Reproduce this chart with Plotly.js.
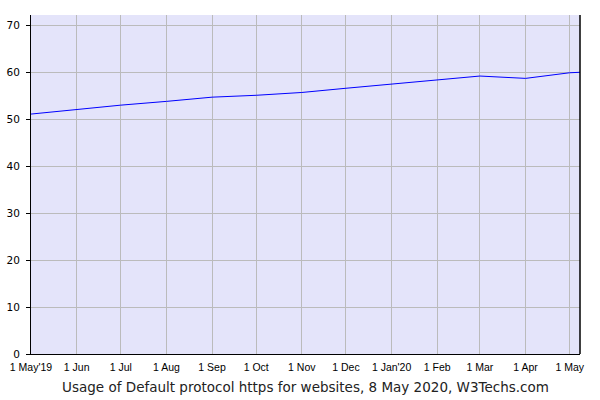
<!DOCTYPE html>
<html>
<head>
<meta charset="utf-8">
<script src="https://cdn.plot.ly/plotly-3.0.1.min.js"></script>
<style>
  body { margin: 0; background: #fff; }
  #plotDiv { width: 600px; height: 400px; }
</style>
</head>
<body>
<div id="plotDiv"></div>
<script>
// usage share of https as default protocol, % of websites
var dates = [
  "2019-05-01", "2019-06-01", "2019-07-01", "2019-08-01", "2019-09-01",
  "2019-10-01", "2019-11-01", "2019-12-01", "2020-01-01", "2020-02-01",
  "2020-03-01", "2020-04-01", "2020-05-01", "2020-05-08"
];
var usage = [51.1, 52.1, 53.0, 53.8, 54.7, 55.1, 55.7, 56.6, 57.5, 58.3, 59.2, 58.7, 59.9, 60.0];

var tickDates = [
  "2019-05-01", "2019-06-01", "2019-07-01", "2019-08-01", "2019-09-01",
  "2019-10-01", "2019-11-01", "2019-12-01", "2020-01-01", "2020-02-01",
  "2020-03-01", "2020-04-01", "2020-05-01"
];
var tickLabels = [
  "1 May'19", "1 Jun", "1 Jul", "1 Aug", "1 Sep", "1 Oct", "1 Nov",
  "1 Dec", "1 Jan'20", "1 Feb", "1 Mar", "1 Apr", "1 May"
];
var yTicks = [0, 10, 20, 30, 40, 50, 60, 70];

var data = [
  {
    type: "scatter",
    mode: "lines",
    x: dates,
    y: usage,
    line: { color: "#0000ff", width: 1 },
    hoverinfo: "x+y"
  }
];

var layout = {
  width: 600,
  height: 400,
  margin: { l: 31, r: 20, t: 15, b: 46 },
  paper_bgcolor: "#ffffff",
  plot_bgcolor: "#e4e4fa",
  showlegend: false,
  font: { family: "DejaVu Sans, Verdana, sans-serif", size: 11, color: "#000" },
  xaxis: {
    type: "date",
    range: ["2019-05-01", "2020-05-08"],
    tickmode: "array",
    tickvals: tickDates,
    ticktext: tickLabels,
    tickfont: { family: "Liberation Sans, Arial, sans-serif", size: 10.5, color: "#000" },
    ticks: "",
    ticklabelstandoff: 3,
    showgrid: true,
    gridcolor: "#bbbbbb",
    gridwidth: 1,
    showline: true,
    linecolor: "#000",
    linewidth: 1,
    zeroline: false,
    title: {
      text: "Usage of Default protocol https for websites, 8 May 2020, W3Techs.com",
      font: { family: "DejaVu Sans, Verdana, sans-serif", size: 13.5, color: "#222" },
      standoff: 10
    }
  },
  yaxis: {
    range: [0, 72.2],
    tickmode: "array",
    tickvals: yTicks,
    ticks: "outside",
    ticklen: 4,
    tickcolor: "#000",
    ticklabelstandoff: 4,
    tickfont: { family: "DejaVu Sans, Verdana, sans-serif", size: 10.5, color: "#000" },
    showgrid: true,
    gridcolor: "#bbbbbb",
    gridwidth: 1,
    showline: true,
    linecolor: "#000",
    linewidth: 1,
    zeroline: false
  },
  shapes: [
    {
      type: "line", xref: "paper", yref: "paper",
      x0: 1, x1: 1, y0: 0, y1: 1,
      line: { color: "#000", width: 1.5 }
    }
  ]
};

Plotly.newPlot("plotDiv", data, layout, { displayModeBar: false, staticPlot: true });
</script>
</body>
</html>
